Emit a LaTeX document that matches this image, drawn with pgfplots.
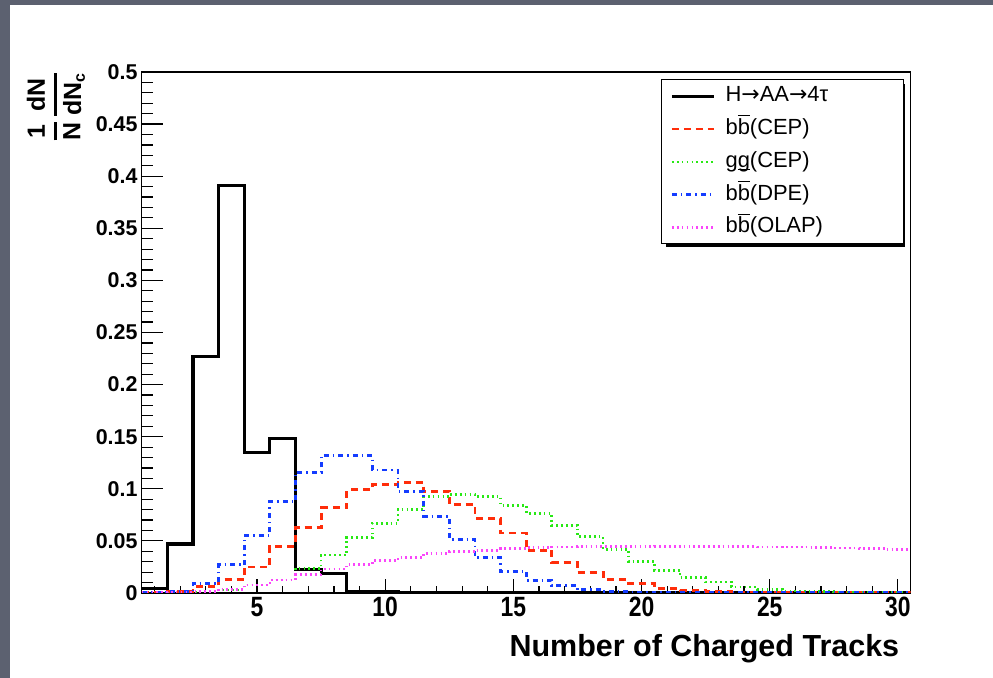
\documentclass[border=0pt]{standalone}
\usepackage{amsmath}
\usepackage{fontspec}
\setmainfont{Liberation Sans}
\newfontfamily\dejavu{DejaVu Sans}
\usepackage{pgfplots}
\usepackage{pgfplotstable}
\pgfplotsset{compat=1.18}
\definecolor{bgray}{RGB}{92,97,112}
\definecolor{rred}{RGB}{255,45,10}
\definecolor{rgreen}{RGB}{40,232,20}
\definecolor{rblue}{RGB}{20,60,255}
\definecolor{rmag}{RGB}{250,70,250}
\newcommand{\LE}[1]{\makebox[169bp][l]{#1}}
\newcommand{\bbar}{b$\overline{\mbox{b}}$}
\newcommand{\arr}{{\dejavu →}}

% left bin edges, last row repeats the last bin at the right edge
\pgfplotstableread{
x    h      r      g      b      m
0.5  0.004  0.0005 0.0003 0.0005 0.0003
1.5  0.047  0.0015 0.0005 0.0013 0.0005
2.5  0.227  0.006  0.001  0.0093 0.0013
3.5  0.391  0.013  0.003  0.027  0.0036
4.5  0.135  0.025  0.0077 0.055  0.0077
5.5  0.148  0.045  0.0125 0.0877 0.0125
6.5  0.0225 0.063  0.0237 0.1155 0.0175
7.5  0.0185 0.082  0.0365 0.1318 0.023
8.5  0.0018 0.099  0.053  0.1318 0.0275
9.5  0.0018 0.104  0.067  0.118  0.031
10.5 0.0002 0.106  0.080  0.0976 0.034
11.5 0.0002 0.0976 0.0925 0.0736 0.038
12.5 0.0002 0.085  0.0947 0.0515 0.0397
13.5 0      0.0717 0.0925 0.034  0.041
14.5 0      0.0576 0.084  0.021  0.0425
15.5 0      0.041  0.0765 0.012  0.0435
16.5 0      0.029  0.065  0.007  0.0442
17.5 0      0.0195 0.054  0.003  0.0444
18.5 0      0.013  0.042  0.0015 0.0444
19.5 0      0.009  0.030  0.001  0.0444
20.5 0      0.0045 0.0218 0.0008 0.0445
21.5 0      0.0025 0.015  0.0006 0.0445
22.5 0      0.0015 0.0106 0.0005 0.0444
23.5 0      0.001  0.0058 0.0005 0.0443
24.5 0      0.0008 0.0035 0.0004 0.0442
25.5 0      0.0005 0.002  0.0004 0.0441
26.5 0      0.0004 0.0015 0.0003 0.044
27.5 0      0.0003 0.001  0.0003 0.0432
28.5 0      0.0003 0.001  0.0003 0.043
29.5 0      0.0002 0.0008 0.0002 0.0418
30.5 0      0.0002 0.0008 0.0002 0.0418
}\histdata

\begin{document}
\begin{tikzpicture}
\fill[bgray] (0bp,0bp) rectangle (993bp,678bp);
\fill[white] (10bp,0bp) rectangle (993bp,673bp);
% legend shadow (ROOT style)
\fill[black] (666bp,431bp) rectangle (905bp,593.7bp);
\begin{axis}[
  at={(141.7bp,85bp)}, anchor=south west,
  scale only axis, width=769bp, height=521bp,
  xmin=0.5, xmax=30.5, ymin=0, ymax=0.5,
  axis line style={line width=1.3bp, black},
  tick align=inside, tick pos=left,
  xtick={5,10,15,20,25,30},
  xticklabels={5,10,15,20,25,30},
  minor xtick={1,...,30},
  ytick={0,0.05,0.1,0.15,0.2,0.25,0.3,0.35,0.4,0.45,0.5},
  yticklabels={0,0.05,0.1,0.15,0.2,0.25,0.3,0.35,0.4,0.45,0.5},
  minor y tick num=4,
  xtick style={line width=1.2bp, black, /pgfplots/major tick length=14bp, /pgfplots/minor tick length=7bp},
  ytick style={line width=1.2bp, black, /pgfplots/major tick length=21bp, /pgfplots/minor tick length=11bp},
  major tick length=14bp, minor tick length=7bp,
  yticklabel style={font=\bfseries\fontsize{21.5}{22}\selectfont, inner sep=0pt, xshift=-4bp},
  xticklabel style={font=\bfseries\fontsize{28}{28}\selectfont, xscale=0.82, inner sep=0pt, yshift=-4bp},
  xlabel={Number of Charged Tracks},
  xlabel style={at={(axis description cs:1,0)}, anchor=base east, yshift=-63bp, xshift=-8bp,
                font=\bfseries\fontsize{30.6}{31}\selectfont},
  legend style={at={(0.675,0.986)}, anchor=north west, draw=black, line width=1.2bp,
                fill=white, inner xsep=9bp, inner ysep=0bp, row sep=0bp, column sep=10bp,
                font=\fontsize{22}{22}\selectfont,
                nodes={inner xsep=0bp, inner ysep=5.9bp, text height=16bp, text depth=5bp}},
  legend cell align=left,
  legend image code/.code={\draw[#1] (0bp,0bp) -- (42bp,0bp);},
]
\addplot[const plot, black, line width=3.2bp] table[x=x, y=h] {\histdata};
\addlegendentry{\LE{H\arr AA\arr 4τ}}
\addplot[const plot, rred, line width=2.8bp, dash pattern=on 7bp off 5bp] table[x=x, y=r] {\histdata};
\addlegendentry{\LE{\bbar(CEP)}}
\addplot[const plot, rgreen, line width=2.7bp, dash pattern=on 1.7bp off 3.2bp] table[x=x, y=g] {\histdata};
\addlegendentry{\LE{g\rlap{\rule[-3bp]{12.2bp}{1.3bp}}g(CEP)}}
\addplot[const plot, rblue, line width=2.8bp, dash pattern=on 5bp off 4bp on 1.5bp off 4bp] table[x=x, y=b] {\histdata};
\addlegendentry{\LE{\bbar(DPE)}}
\addplot[const plot, rmag, line width=2.7bp, dash pattern=on 1.7bp off 3.2bp] table[x=x, y=m] {\histdata};
\addlegendentry{\LE{\bbar(OLAP)}}
\end{axis}
\node[rotate=90, anchor=east, inner sep=0pt, font=\bfseries\fontsize{25}{25}\selectfont]
  at (56bp,606bp) {$\genfrac{}{}{2.2bp}{0}{\mbox{1}}{\mbox{N}}\,\genfrac{}{}{2.2bp}{0}{\mbox{dN}}{\mbox{dN}_{\mbox{\fontsize{16}{16}\selectfont c}}}$};
\pgfresetboundingbox
\path (0bp,0bp) rectangle (993bp,678bp);
\end{tikzpicture}
\end{document}
